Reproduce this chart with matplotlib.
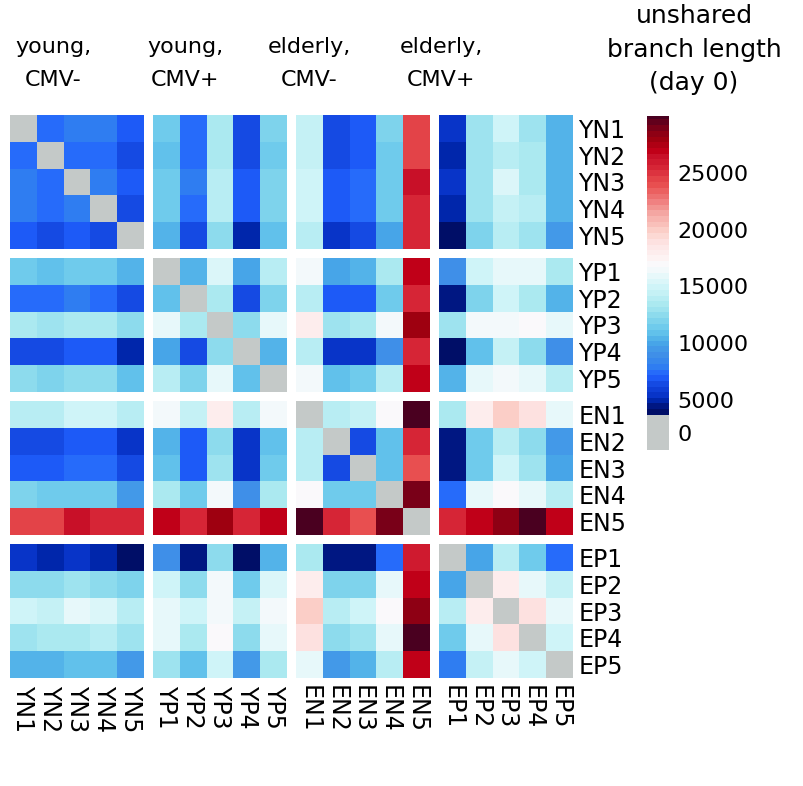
import numpy as np
import matplotlib
matplotlib.use('Agg')
import matplotlib.pyplot as plt
from matplotlib.colors import LinearSegmentedColormap, ListedColormap, Normalize

samples = ['YN1', 'YN2', 'YN3', 'YN4', 'YN5',
           'YP1', 'YP2', 'YP3', 'YP4', 'YP5',
           'EN1', 'EN2', 'EN3', 'EN4', 'EN5',
           'EP1', 'EP2', 'EP3', 'EP4', 'EP5']
groups = ['young,\nCMV-', 'young,\nCMV+', 'elderly,\nCMV-', 'elderly,\nCMV+']
group_x_px = [53, 185, 309, 441]

# unshared branch length (day 0), rows in sample order, 0 on the diagonal
yn_rows = [
    [0, 7300, 8000, 8000, 7200, 11200, 7400, 13300, 6300, 12000, 14500, 6300, 7100, 11800, 24500, 5500, 12800, 15000, 13000, 10300],
    [7300, 0, 7300, 7300, 6300, 10800, 7400, 13300, 6300, 11400, 14500, 6300, 6900, 11200, 24300, 5000, 12800, 14200, 13300, 10300],
    [8000, 7300, 0, 8000, 7100, 11400, 8000, 13700, 7100, 12000, 15000, 7100, 7600, 11200, 26500, 5500, 13000, 15500, 13300, 10600],
    [8000, 7300, 8000, 0, 6300, 11400, 7400, 13700, 7100, 12000, 15000, 7100, 7600, 11200, 25300, 5000, 12800, 14600, 13700, 10600],
    [7100, 6400, 7100, 6300, 0, 10300, 6300, 12600, 5000, 10900, 13700, 5600, 6300, 9900, 25300, 4200, 12000, 14200, 12800, 9700],
]
yp_rows = [
    [11400, 10900, 11400, 11400, 10300, 0, 10300, 15500, 9900, 13700, 16400, 9900, 10600, 13300, 27000, 8800, 15000, 15800, 16000, 13300],
    [7300, 7300, 8000, 7500, 6300, 10900, 0, 13300, 6300, 12000, 14200, 7100, 7100, 11400, 25300, 4500, 12000, 15000, 13300, 10600],
    [13300, 13000, 13300, 13300, 12600, 15800, 13300, 0, 12600, 16000, 18000, 13000, 13300, 16400, 28000, 13000, 16200, 16400, 17200, 15800],
    [6300, 6300, 7100, 7100, 5000, 9900, 6300, 12600, 0, 10600, 13700, 5600, 5600, 9000, 25300, 4200, 10900, 14600, 12300, 9000],
    [12300, 11800, 12300, 12300, 10900, 14000, 12000, 16000, 10900, 0, 16200, 10900, 11400, 13700, 27000, 10600, 15800, 16200, 16000, 13700],
]
en_rows = [
    [14200, 14200, 15000, 15000, 14000, 16200, 14600, 18000, 14000, 16200, 0, 14000, 14600, 17200, 29800, 13300, 18000, 19800, 18800, 15800],
    [6400, 6300, 7100, 7100, 5600, 10300, 7100, 12600, 5600, 10900, 13700, 0, 6300, 10900, 25300, 4500, 11400, 14000, 12600, 9700],
    [7100, 7100, 7600, 7600, 6300, 10900, 7100, 13000, 5600, 11400, 14200, 6300, 0, 10900, 24000, 4500, 11400, 15000, 13000, 9900],
    [12000, 11400, 11400, 11400, 9700, 13300, 11400, 16200, 9000, 13300, 17200, 11200, 11200, 0, 29000, 7600, 15800, 17200, 16000, 14000],
    [24300, 24300, 26500, 25300, 25300, 27000, 25300, 28000, 25300, 27000, 29800, 25300, 24000, 29000, 0, 25300, 27000, 28500, 29800, 27000],
]
ep_rows = [
    [5500, 5000, 5500, 5000, 4200, 9000, 4500, 12600, 4200, 10300, 13300, 4700, 4700, 7600, 25800, 0, 9900, 13700, 11200, 7600],
    [12600, 12600, 13000, 12600, 11800, 15000, 12600, 16200, 11400, 15500, 17800, 11800, 11800, 15800, 27000, 9900, 0, 17800, 16000, 14600],
    [15000, 14600, 15800, 15500, 14200, 16100, 15000, 16400, 14600, 16600, 19800, 14000, 15000, 17200, 28500, 14000, 17800, 0, 18800, 16000],
    [13000, 13300, 13300, 13700, 13000, 16000, 13300, 17200, 12600, 16000, 18800, 12600, 13000, 15800, 29800, 11200, 16000, 18800, 0, 15000],
    [10300, 10300, 10900, 10900, 9700, 13000, 10900, 15000, 9700, 13300, 15800, 9700, 10300, 14000, 27000, 8000, 14600, 16000, 15000, 0],
]

cbar_ticks = [2150, 5000, 10000, 15000, 20000, 25000]
cbar_ticklabels = ['0', '5000', '10000', '15000', '20000', '25000']
cbar_title = ['unshared', 'branch length', '(day 0)']

# colour scale: blue -> white -> dark red, grey for zero
node_vals = [3700, 4200, 5000, 5600, 6300, 7100, 8000, 9000, 10000, 11200, 12300,
             13300, 14200, 15000, 16000, 16800, 17500, 18800, 19800, 21500, 22500,
             24000, 25300, 26500, 27000, 28000, 29000, 30000]
node_cols = ['#000c60', '#001070', '#0028b0', '#0a38d0', '#1448e0', '#2060ff', '#3080f0',
             '#4090e8', '#48a8e8', '#68c8ec', '#88d8ec', '#a8e8f0', '#c0f0f4', '#d0f4f8',
             '#e8f8fa', '#fafafc', '#fdf2f2', '#fde4e4', '#fcd4cc', '#f4a4a0', '#f08080',
             '#e85050', '#d82838', '#c81028', '#c00018', '#a00010', '#780018', '#4a0020']
grey = '#c4c9c8'
lo, hi = node_vals[0], node_vals[-1]
grad = LinearSegmentedColormap.from_list(
    'ubl', [((v - lo) / (hi - lo), c) for v, c in zip(node_vals, node_cols)])

vmin, vmax = 614, 30000
cols = []
n = 400
for i in range(n):
    v = vmin + (i + 0.5) / n * (vmax - vmin)
    if v < lo:
        cols.append(grey)
    else:
        vq = lo + (np.floor((v - lo) / 500) + 0.5) * 500
        cols.append(grad(min((vq - lo) / (hi - lo), 1.0)))
cmap = ListedColormap(cols)
cmap.set_under(grey)
norm = Normalize(vmin=vmin, vmax=vmax)

mat = np.array(yn_rows + yp_rows + en_rows + ep_rows, dtype=float)

# insert gap rows/cols between the 5x5 blocks
gap = 0.336
full = np.full((23, 23), np.nan)
idx = [i + i // 5 for i in range(20)]
full[np.ix_(idx, idx)] = mat
widths = []
for b in range(4):
    widths += [1] * 5
    if b < 3:
        widths.append(gap)
edges = np.concatenate([[0], np.cumsum(widths)])
centers = [(edges[k] + edges[k + 1]) / 2 for k in idx]

W, H = 804, 786
fig = plt.figure(figsize=(W / 100, H / 100), dpi=100)
ax = fig.add_axes([10 / W, (H - 678) / H, 563 / W, 563 / H])
mesh = ax.pcolormesh(edges, edges, np.ma.masked_invalid(full), cmap=cmap, norm=norm,
                     edgecolors='none', linewidth=0, antialiased=False)
ax.set_xlim(edges[0], edges[-1])
ax.set_ylim(edges[-1], edges[0])
for s in ax.spines.values():
    s.set_visible(False)

ax.yaxis.tick_right()
ax.set_yticks(centers)
ax.set_yticklabels(samples, fontsize=17)
ax.set_xticks(centers)
ax.set_xticklabels(samples, fontsize=17, rotation=270)
ax.tick_params(axis='y', length=0, pad=4)
ax.tick_params(axis='x', length=0, pad=5)

# group headers, two lines each
for g, x in zip(groups, group_x_px):
    top, bottom = g.split('\n')
    fig.text(x / W, 1 - 53 / H, top, ha='center', va='baseline', fontsize=16)
    fig.text(x / W, 1 - 86 / H, bottom, ha='center', va='baseline', fontsize=16)

cax = fig.add_axes([647 / W, (H - 450) / H, 22 / W, 334 / H])
cb = fig.colorbar(mesh, cax=cax)
cb.outline.set_visible(False)
cb.set_ticks(cbar_ticks)
cb.set_ticklabels(cbar_ticklabels)
cax.tick_params(length=0, pad=6, labelsize=16)

for line, y in zip(cbar_title, [23, 57, 90]):
    fig.text(694 / W, 1 - y / H, line, ha='center', va='baseline', fontsize=18)

fig.savefig('out.png', dpi=100)
